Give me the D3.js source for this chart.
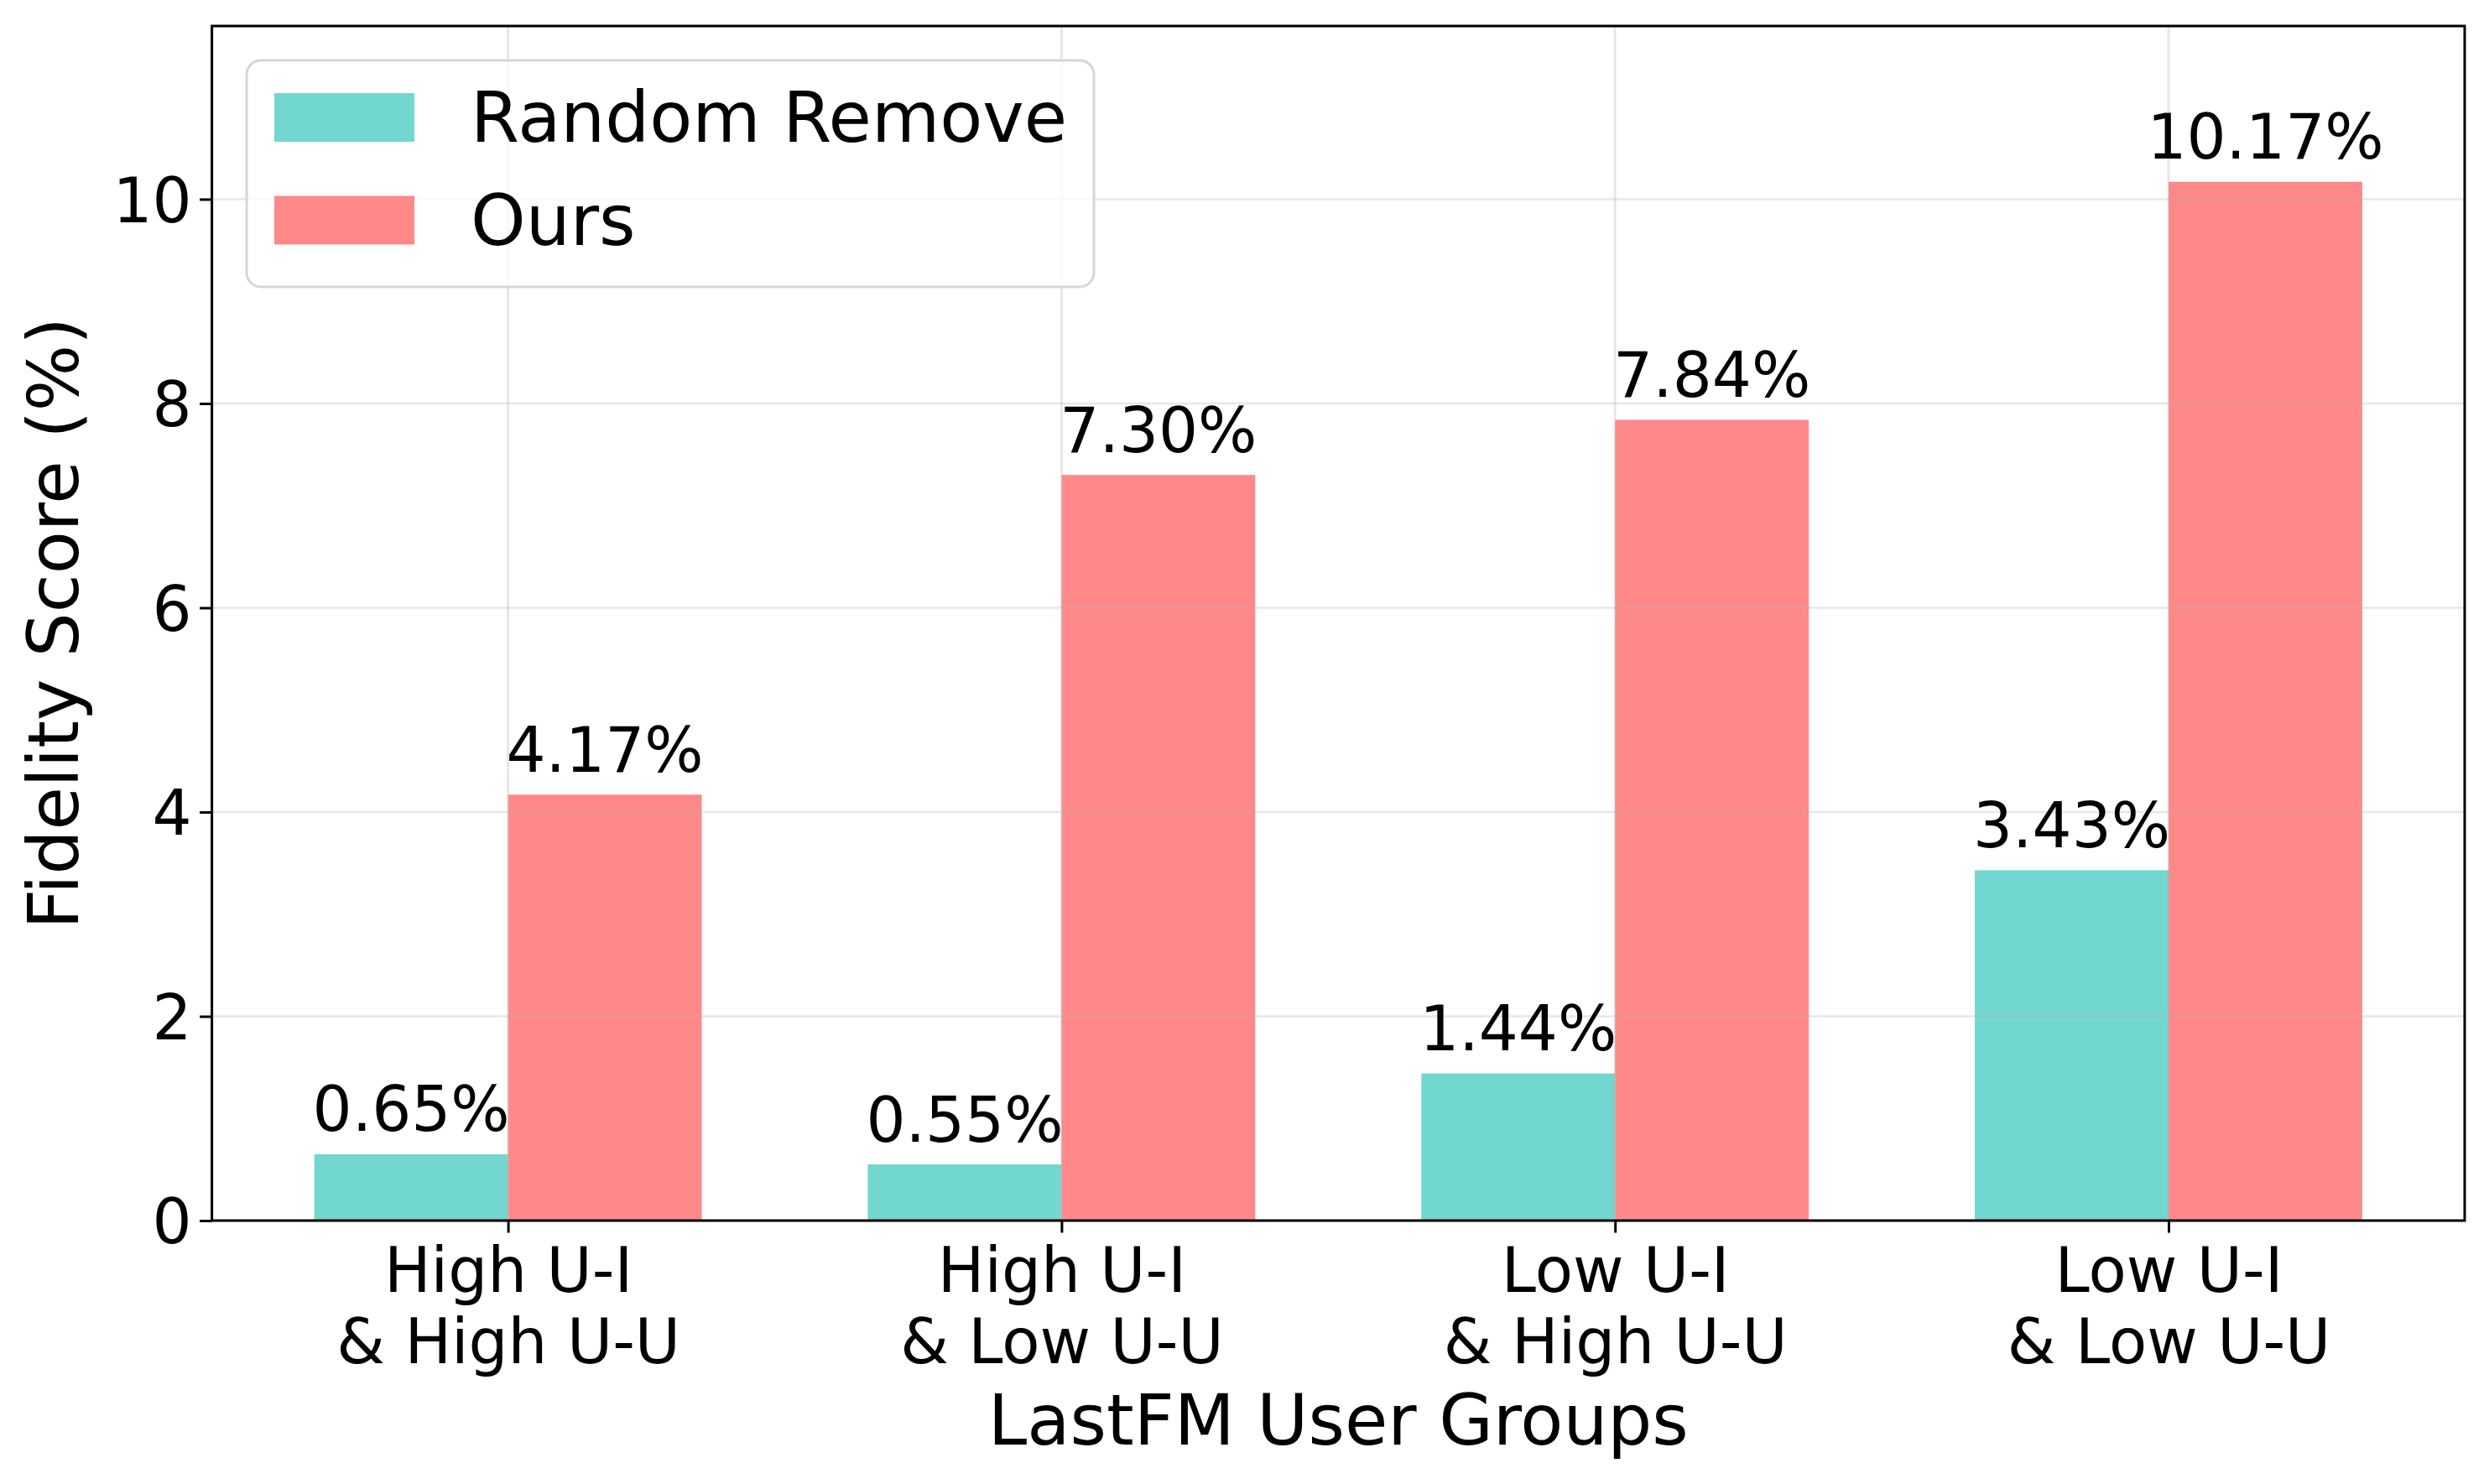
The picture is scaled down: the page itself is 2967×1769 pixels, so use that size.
<!DOCTYPE html>
<html>
<head>
<meta charset="utf-8">
<script src="https://cdn.jsdelivr.net/npm/d3@7"></script>
<style>
  html, body { margin: 0; padding: 0; background: #ffffff; }
  svg { display: block; font-family: "DejaVu Sans", sans-serif; }
</style>
</head>
<body>
<svg id="chart" width="2967" height="1769"></svg>
<script>
// ---- data ----
const categories = [
  ["High U-I", "& High U-U"],
  ["High U-I", "& Low U-U"],
  ["Low U-I", "& High U-U"],
  ["Low U-I", "& Low U-U"]
];
const seriesNames = ["Random Remove", "Ours"];
const randomRemove = [0.65, 0.55, 1.44, 3.43];
const ours = [4.17, 7.30, 7.84, 10.17];
const yTicks = [0, 2, 4, 6, 8, 10];
const xTitle = "LastFM User Groups";
const yTitle = "Fidelity Score (%)";

// ---- layout ----
const W = 2967, H = 1769;
const plot = { left: 252.6, right: 2938, top: 31, bottom: 1455 };
const colors = ["#72d7cf", "#ff8989"];
const barW = 0.35;
const tickFont = 74, labelFont = 83.5;
const tickLen = 14.5, tickPad = 14.5;

const svg = d3.select("#chart");
svg.append("rect").attr("width", W).attr("height", H).attr("fill", "#fff");

const yMax = d3.max(ours.concat(randomRemove)) * 1.15;
const x = d3.scaleLinear()
  .domain([-barW - 0.05 * (categories.length - 1 + 2 * barW), categories.length - 1 + barW + 0.05 * (categories.length - 1 + 2 * barW)])
  .range([plot.left, plot.right]);
const y = d3.scaleLinear().domain([0, yMax]).range([plot.bottom, plot.top]);

const series = [randomRemove, ours];

// bars
const gBars = svg.append("g");
series.forEach((vals, s) => {
  gBars.selectAll(null).data(vals).enter().append("rect")
    .attr("x", (d, i) => x(i + (s - 1) * barW))
    .attr("y", d => y(d))
    .attr("width", (d, i) => x(i + s * barW) - x(i + (s - 1) * barW))
    .attr("height", d => y(0) - y(d))
    .attr("fill", colors[s]);
});

// grid (drawn over bars with alpha)
const gGrid = svg.append("g").attr("stroke", "#b0b0b0").attr("stroke-opacity", 0.3);
gGrid.selectAll(null).data(yTicks).enter().append("line")
  .attr("x1", plot.left).attr("x2", plot.right)
  .attr("y1", d => y(d)).attr("y2", d => y(d))
  .attr("stroke-width", 2.6);
gGrid.selectAll(null).data(categories.map((c, i) => i)).enter().append("line")
  .attr("y1", plot.top).attr("y2", plot.bottom)
  .attr("x1", d => x(d)).attr("x2", d => x(d))
  .attr("stroke-width", 3);

// value labels
const gLab = svg.append("g").attr("font-size", tickFont).attr("fill", "#000").attr("text-anchor", "middle");
series.forEach((vals, s) => {
  gLab.selectAll(null).data(vals).enter().append("text")
    .attr("x", (d, i) => x(i + (s - 0.5) * barW))
    .attr("y", d => y(d) - 27.5)
    .text(d => d.toFixed(2) + "%");
});

// axes
const yAxis = d3.axisLeft(y).tickValues(yTicks).tickSize(tickLen).tickPadding(tickPad).tickFormat(d3.format("d"));
const gy = svg.append("g").attr("transform", `translate(${plot.left},0)`).call(yAxis);
gy.select(".domain").remove();
gy.selectAll(".tick line").attr("stroke", "#000").attr("stroke-width", 3);
gy.selectAll(".tick text").attr("font-size", tickFont).attr("font-family", "DejaVu Sans").attr("fill", "#000").attr("dy", "0.36em").attr("x", -(tickLen + tickPad) + 5);

const xAxis = d3.axisBottom(x).tickValues(categories.map((c, i) => i)).tickSize(tickLen).tickFormat("");
const gx = svg.append("g").attr("transform", `translate(0,${plot.bottom})`).call(xAxis);
gx.select(".domain").remove();
gx.selectAll(".tick line").attr("stroke", "#000").attr("stroke-width", 3);
gx.selectAll(".tick").each(function(d) {
  const t = d3.select(this).append("text")
    .attr("font-size", tickFont).attr("font-family", "DejaVu Sans")
    .attr("fill", "#000").attr("text-anchor", "middle");
  categories[d].forEach((line, k) => {
    t.append("tspan").attr("x", 0).attr("y", 85 + k * 85).text(line);
  });
});

// frame
svg.append("rect")
  .attr("x", plot.left).attr("y", plot.top)
  .attr("width", plot.right - plot.left).attr("height", plot.bottom - plot.top)
  .attr("fill", "none").attr("stroke", "#000").attr("stroke-width", 3);

// axis titles
svg.append("text")
  .attr("x", (plot.left + plot.right) / 2).attr("y", 1722)
  .attr("text-anchor", "middle").attr("font-size", labelFont).attr("fill", "#000")
  .text(xTitle);
svg.append("text")
  .attr("transform", `translate(93,${(plot.top + plot.bottom) / 2}) rotate(-90)`)
  .attr("text-anchor", "middle").attr("font-size", labelFont).attr("fill", "#000")
  .text(yTitle);

// legend
const leg = svg.append("g");
leg.append("rect")
  .attr("x", 294).attr("y", 72).attr("width", 1010).attr("height", 270)
  .attr("rx", 17).attr("ry", 17)
  .attr("fill", "#fff").attr("fill-opacity", 0.8)
  .attr("stroke", "#d6d6d6").attr("stroke-width", 3);
seriesNames.forEach((name, s) => {
  const baseY = 169 + s * 122.5;
  leg.append("rect")
    .attr("x", 327).attr("y", baseY - 58).attr("width", 167).attr("height", 58)
    .attr("fill", colors[s]);
  leg.append("text")
    .attr("x", 561).attr("y", baseY)
    .attr("font-size", labelFont).attr("fill", "#000")
    .text(name);
});
</script>
</body>
</html>
